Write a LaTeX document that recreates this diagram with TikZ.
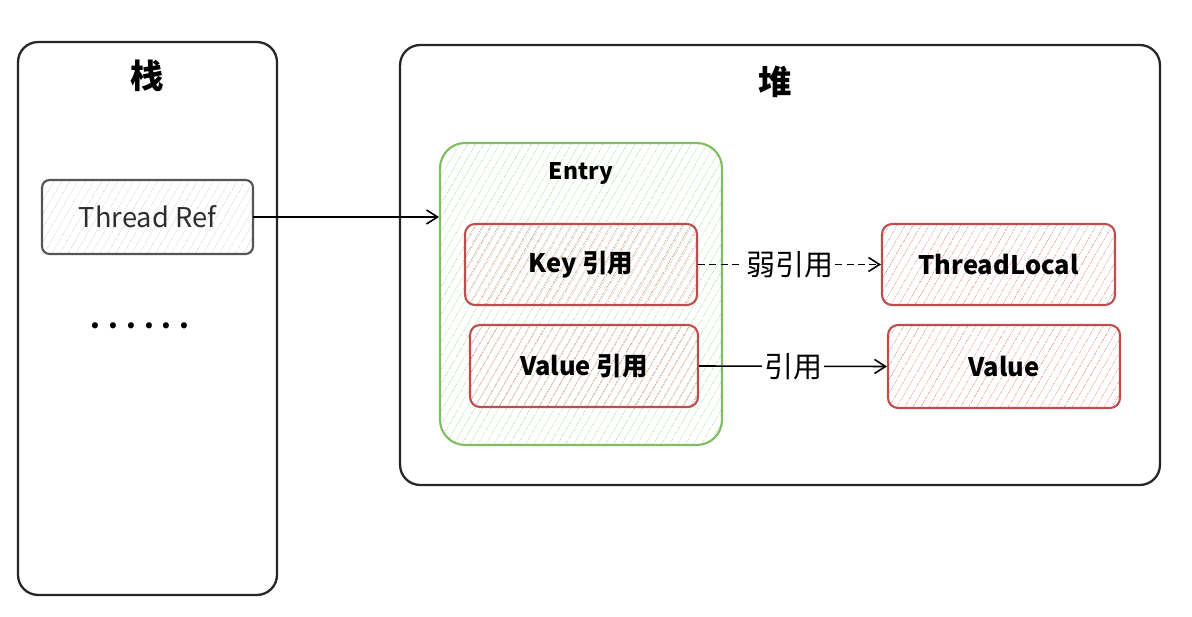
\documentclass[tikz,border=0pt]{standalone}
\usepackage{fontspec}
\setmainfont{Noto Sans CJK SC}
\usetikzlibrary{arrows.meta,positioning,patterns.meta}
\definecolor{BoxRed}{RGB}{190,78,78}
\definecolor{HatchRed}{RGB}{232,160,160}
\definecolor{BoxGreen}{RGB}{128,188,98}
\definecolor{HatchGreen}{RGB}{192,226,178}
\definecolor{BoxGray}{RGB}{85,85,85}
\definecolor{HatchGray}{RGB}{220,220,220}
\definecolor{TextGray}{RGB}{45,45,45}
\tikzset{
  areabox/.style={draw=black!85,rounded corners=4mm,line width=1.3pt},
  refbox/.style={draw=BoxRed,rounded corners=2mm,line width=1.2pt,
    pattern={Lines[angle=60,distance=4pt,line width=0.5pt]},
    pattern color=HatchRed,font=\bfseries\fontsize{14.5}{16}\selectfont},
  entrybox/.style={draw=BoxGreen,rounded corners=5mm,line width=1.2pt,
    pattern={Lines[angle=60,distance=4pt,line width=0.5pt]},
    pattern color=HatchGreen},
  stackbox/.style={draw=BoxGray,rounded corners=1.5mm,line width=1.2pt,
    pattern={Lines[angle=60,distance=4pt,line width=0.5pt]},
    pattern color=HatchGray,text=TextGray,
    font=\fontsize{15.5}{17}\selectfont},
  areatitle/.style={font=\bfseries\fontsize{19}{22}\selectfont},
  edgelabel/.style={fill=white,inner sep=1pt,font=\fontsize{16.5}{19}\selectfont},
  refarrow/.style={-{Straight Barb[length=2.2mm,width=2.8mm]},line width=0.9pt},
}
\begin{document}
\begin{tikzpicture}[x=0.02cm,y=-0.02cm]
  \useasboundingbox (0,0) rectangle (1192,617);
  % stack and heap
  \node[areabox,minimum width=5.18cm,minimum height=11.06cm] (stack) at (147.5,318.5) {};
  \node[areatitle] (stacktitle) at (147,76) {栈};
  \node[areabox,minimum width=15.2cm,minimum height=8.8cm] (heap) at (780,265) {};
  \node[areatitle] (heaptitle) at (775,82) {堆};
  % stack content
  \node[stackbox,minimum width=4.22cm,minimum height=1.48cm] (tref) at (147.5,217) {Thread Ref};
  \node[font=\bfseries\fontsize{16}{18}\selectfont] (dots) at (140,326)
    {.\hspace{4.6pt}.\hspace{4.6pt}.\hspace{4.6pt}.\hspace{4.6pt}.\hspace{4.6pt}.};
  % entry
  \node[entrybox,minimum width=5.64cm,minimum height=6.04cm] (entry) at (581,294) {};
  \node[font=\bfseries\fontsize{13}{15}\selectfont] (entrytitle) at (581,173) {Entry};
  \node[refbox,minimum width=4.64cm,minimum height=1.62cm] (keyref) at (581,264.5) {Key 引用};
  \node[refbox,minimum width=4.56cm,minimum height=1.64cm] (valref) at (584,366) {Value 引用};
  % targets
  \node[refbox,minimum width=4.66cm,minimum height=1.62cm] (tlocal) at (998.5,264.5) {ThreadLocal};
  \node[refbox,minimum width=4.64cm,minimum height=1.66cm] (value) at (1004,366.5) {Value};
  % references
  \draw[refarrow] (tref.east) -- (tref.east -| entry.west);
  \draw[refarrow,dash pattern=on 4pt off 2.5pt] (keyref.east) -- node[edgelabel] {弱引用} (tlocal.west);
  \draw[refarrow] (valref.east) -- node[edgelabel] {引用} (value.west);
\end{tikzpicture}
\end{document}
